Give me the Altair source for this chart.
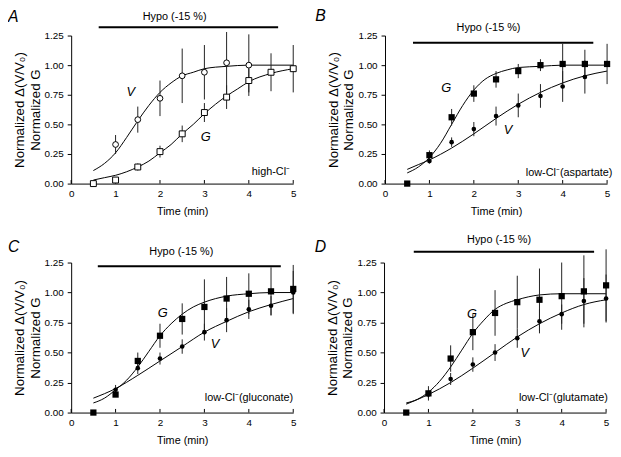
import altair as alt
import pandas as pd

FONT = "Liberation Sans"

X_TICKS = [0, 1, 2, 3, 4, 5]
Y_TICKS = [0.0, 0.25, 0.5, 0.75, 1.0, 1.25]
T_ALL = [0.5, 1.0, 1.5, 2.0, 2.5, 3.0, 3.5, 4.0, 4.5, 5.0]
T_V = [1.0, 1.5, 2.0, 2.5, 3.0, 3.5, 4.0, 4.5, 5.0]

# ---------------- Panel A (high-Cl-) ----------------
A_G = [0.00, 0.03, 0.14, 0.27, 0.42, 0.60, 0.73, 0.87, 0.94, 0.97]
A_G_ERR = [0.0, 0.0, 0.03, 0.05, 0.07, 0.08, 0.10, 0.10, 0.16, 0.20]
A_V_T = [1.0, 1.5, 2.0, 2.5, 3.0, 3.5, 4.0]
A_V = [0.33, 0.54, 0.72, 0.91, 0.94, 1.02, 1.00]
A_V_ERR = [0.08, 0.11, 0.15, 0.23, 0.23, 0.26, 0.26]
A_FITG_T = [0.5, 0.75, 1.0, 1.25, 1.5, 1.75, 2.0, 2.25, 2.5, 2.75, 3.0, 3.25, 3.5, 3.75, 4.0, 4.5, 5.0]
A_FITG = [0.03, 0.05, 0.07, 0.10, 0.14, 0.19, 0.26, 0.33, 0.42, 0.50, 0.59, 0.67, 0.74, 0.80, 0.86, 0.93, 0.97]
A_FITV_T = [0.5, 0.75, 1.0, 1.25, 1.5, 1.75, 2.0, 2.25, 2.5, 2.75, 3.0, 3.5, 4.0, 4.5, 5.0]
A_FITV = [0.11, 0.17, 0.26, 0.39, 0.53, 0.66, 0.77, 0.85, 0.91, 0.94, 0.97, 0.99, 1.00, 1.00, 1.00]

# ---------------- Panel B (aspartate) ----------------
B_G = [0.00, 0.24, 0.56, 0.76, 0.88, 0.95, 1.00, 1.01, 1.01, 1.01]
B_G_ERR = [0.0, 0.04, 0.07, 0.07, 0.07, 0.06, 0.05, 0.17, 0.12, 0.17]
B_V_T = [1.0, 1.5, 2.0, 2.5, 3.0, 3.5, 4.0, 4.5]
B_V = [0.19, 0.35, 0.46, 0.57, 0.66, 0.74, 0.82, 0.90]
B_V_ERR = [0.02, 0.04, 0.06, 0.08, 0.10, 0.10, 0.13, 0.14]
B_FITG_T = [0.5, 0.75, 1.0, 1.25, 1.5, 1.75, 2.0, 2.25, 2.5, 2.75, 3.0, 3.5, 4.0, 5.0]
B_FITG = [0.09, 0.14, 0.22, 0.34, 0.50, 0.66, 0.79, 0.88, 0.93, 0.96, 0.98, 0.99, 1.00, 1.00]
B_FITV_T = [0.5, 0.75, 1.0, 1.5, 2.0, 2.5, 3.0, 3.5, 4.0, 4.5, 5.0]
B_FITV = [0.12, 0.16, 0.20, 0.30, 0.42, 0.55, 0.67, 0.77, 0.85, 0.91, 0.95]

# ---------------- Panel C (gluconate) ----------------
C_G = [0.00, 0.15, 0.43, 0.64, 0.78, 0.88, 0.95, 0.99, 1.01, 1.03]
C_G_ERR = [0.0, 0.02, 0.07, 0.10, 0.13, 0.23, 0.18, 0.17, 0.20, 0.20]
C_V = [0.19, 0.37, 0.45, 0.55, 0.67, 0.77, 0.86, 0.89, 1.00]
C_V_ERR = [0.04, 0.05, 0.05, 0.06, 0.07, 0.10, 0.08, 0.08, 0.18]
C_FITG_T = [0.5, 0.75, 1.0, 1.25, 1.5, 1.75, 2.0, 2.25, 2.5, 2.75, 3.0, 3.5, 4.0, 4.5, 5.0]
C_FITG = [0.08, 0.12, 0.19, 0.27, 0.38, 0.51, 0.64, 0.74, 0.82, 0.88, 0.92, 0.97, 0.99, 1.00, 1.00]
C_FITV_T = [0.5, 1.0, 1.5, 2.0, 2.5, 3.0, 3.5, 4.0, 4.5, 5.0]
C_FITV = [0.12, 0.20, 0.31, 0.43, 0.55, 0.67, 0.76, 0.84, 0.90, 0.95]

# ---------------- Panel D (glutamate) ----------------
D_G = [0.00, 0.16, 0.45, 0.67, 0.83, 0.92, 0.94, 0.97, 1.01, 1.06]
D_G_ERR = [0.0, 0.06, 0.11, 0.15, 0.19, 0.22, 0.26, 0.28, 0.30, 0.30]
D_V = [0.15, 0.28, 0.40, 0.50, 0.62, 0.76, 0.82, 0.93, 0.95]
D_V_ERR = [0.03, 0.05, 0.06, 0.07, 0.08, 0.10, 0.08, 0.19, 0.20]
D_FITG_T = [0.5, 0.75, 1.0, 1.25, 1.5, 1.75, 2.0, 2.25, 2.5, 2.75, 3.0, 3.5, 4.0, 5.0]
D_FITG = [0.08, 0.11, 0.17, 0.26, 0.38, 0.52, 0.66, 0.77, 0.86, 0.91, 0.94, 0.98, 0.99, 0.99]
D_FITV_T = [0.5, 1.0, 1.5, 2.0, 2.5, 3.0, 3.5, 4.0, 4.5, 5.0]
D_FITV = [0.07, 0.15, 0.25, 0.37, 0.50, 0.63, 0.74, 0.83, 0.90, 0.94]

# ---------------- annotations ----------------
LETTERS = ["A", "B", "C", "D"]
LETTER_X = [-1.42, -1.57, -1.42, -1.56]
LETTER_Y = [1.475, 1.48, 1.445, 1.445]
HYPO_TEXT = "Hypo (-15 %)"
HYPO_TEXT_X = [2.33, 2.33, 2.48, 2.59]
HYPO_TEXT_Y = [1.41, 1.31, 1.34, 1.44]
HYPO_BAR_X1 = [0.62, 0.63, 0.60, 0.67]
HYPO_BAR_X2 = [4.66, 4.69, 4.72, 4.73]
HYPO_BAR_Y = [1.32, 1.19, 1.22, 1.34]
LABEL_G_XY = [(3.03, 0.39), (1.38, 0.81), (2.06, 0.83), (1.98, 0.82)]
LABEL_V_XY = [(1.34, 0.77), (2.77, 0.45), (3.24, 0.57), (3.17, 0.50)]
COND_TEXT = ["high-Cl\u207b", "low-Cl\u207b(aspartate)", "low-Cl\u207b(gluconate)", "low-Cl\u207b(glutamate)"]
COND_X = [4.93, 5.12, 5.0, 5.04]
COND_Y = [0.10, 0.09, 0.12, 0.12]
Y_TITLE = ["Normalized \u0394(V/V\u2080)", "Normalized G"]


def panel(i, g_t, g, g_err, v_t, v, v_err, fg_t, fg, fv_t, fv, open_markers, height):
    xs = alt.Scale(domain=[0, 5], nice=False, zero=False)
    ys = alt.Scale(domain=[0, 1.25], nice=False, zero=False)
    xaxis = alt.Axis(values=X_TICKS, format="d", title="Time (min)", ticks=False,
                     labelPadding=5, titlePadding=7, grid=False, labelFlush=False)
    yaxis = alt.Axis(values=Y_TICKS, format=".2f", title=Y_TITLE, tickSize=4,
                     labelPadding=4, titlePadding=2, grid=False, titleLineHeight=16,
                     titleFontSize=13.5, labelFlush=False)

    def X(f):
        return alt.X(f, type="quantitative", scale=xs, axis=xaxis)

    def Y(f):
        return alt.Y(f, type="quantitative", scale=ys, axis=yaxis)

    fitG = pd.DataFrame({"t": fg_t, "y": fg})
    fitV = pd.DataFrame({"t": fv_t, "y": fv})
    gdf = pd.DataFrame({"t": g_t, "y": g, "e": g_err})
    gdf["lo"] = gdf["y"] - gdf["e"]
    gdf["hi"] = gdf["y"] + gdf["e"]
    vdf = pd.DataFrame({"t": v_t, "y": v, "e": v_err})
    vdf["lo"] = vdf["y"] - vdf["e"]
    vdf["hi"] = vdf["y"] + vdf["e"]

    layers = []
    # inward x ticks
    tk = pd.DataFrame({"t": X_TICKS, "y": [0.0] * 6, "y2": [0.03] * 6})
    layers.append(alt.Chart(tk).mark_rule(color="black", strokeWidth=1).encode(
        x=X("t"), y=Y("y"), y2="y2"))
    # fitted curves
    for df in (fitG, fitV):
        layers.append(alt.Chart(df).mark_line(color="black", strokeWidth=1, interpolate="monotone").encode(
            x=X("t"), y=Y("y")))
    # error bars
    for df in (gdf, vdf):
        eb = df[df["e"] > 0]
        layers.append(alt.Chart(eb).mark_rule(color="#222", strokeWidth=1).encode(
            x=X("t"), y=Y("lo"), y2="hi"))
    # markers
    if open_markers:
        layers.append(alt.Chart(vdf).mark_point(shape="circle", size=34, filled=True, fill="white",
                                                stroke="black", strokeWidth=1, opacity=1).encode(
            x=X("t"), y=Y("y")))
        layers.append(alt.Chart(gdf).mark_point(shape="square", size=36, filled=True, fill="white",
                                                stroke="black", strokeWidth=1, opacity=1).encode(
            x=X("t"), y=Y("y")))
    else:
        layers.append(alt.Chart(vdf).mark_point(shape="circle", size=22, filled=True, color="black",
                                                opacity=1).encode(x=X("t"), y=Y("y")))
        layers.append(alt.Chart(gdf).mark_point(shape="square", size=40, filled=True, color="black",
                                                opacity=1).encode(x=X("t"), y=Y("y")))
    # hypo bar + text
    bar = pd.DataFrame({"t": [HYPO_BAR_X1[i]], "t2": [HYPO_BAR_X2[i]], "y": [HYPO_BAR_Y[i]]})
    layers.append(alt.Chart(bar).mark_rule(color="black", strokeWidth=2).encode(
        x=X("t"), x2="t2", y=Y("y")))
    ht = pd.DataFrame({"t": [HYPO_TEXT_X[i]], "y": [HYPO_TEXT_Y[i]], "s": [HYPO_TEXT]})
    layers.append(alt.Chart(ht).mark_text(fontSize=11, align="center", baseline="middle", color="black").encode(
        x=X("t"), y=Y("y"), text="s:N"))
    # G / V labels
    lab = pd.DataFrame({"t": [LABEL_G_XY[i][0], LABEL_V_XY[i][0]],
                        "y": [LABEL_G_XY[i][1], LABEL_V_XY[i][1]], "s": ["G", "V"]})
    layers.append(alt.Chart(lab).mark_text(fontSize=13, fontStyle="italic", align="center",
                                           baseline="middle", color="black").encode(
        x=X("t"), y=Y("y"), text="s:N"))
    # condition text
    ct = pd.DataFrame({"t": [COND_X[i]], "y": [COND_Y[i]], "s": [COND_TEXT[i]]})
    layers.append(alt.Chart(ct).mark_text(fontSize=11, align="right", baseline="middle", color="black").encode(
        x=X("t"), y=Y("y"), text="s:N"))
    # panel letter
    lt = pd.DataFrame({"t": [LETTER_X[i]], "y": [LETTER_Y[i]], "s": [LETTERS[i]]})
    layers.append(alt.Chart(lt).mark_text(fontSize=16, fontStyle="italic", align="left", baseline="top",
                                          color="black").encode(x=X("t"), y=Y("y"), text="s:N"))

    return alt.layer(*layers).properties(width=225, height=height)


pA = panel(0, T_ALL, A_G, A_G_ERR, A_V_T, A_V, A_V_ERR, A_FITG_T, A_FITG, A_FITV_T, A_FITV, True, 150)
pB = panel(1, T_ALL, B_G, B_G_ERR, B_V_T, B_V, B_V_ERR, B_FITG_T, B_FITG, B_FITV_T, B_FITV, False, 150)
pC = panel(2, T_ALL, C_G, C_G_ERR, T_V, C_V, C_V_ERR, C_FITG_T, C_FITG, C_FITV_T, C_FITV, False, 152)
pD = panel(3, T_ALL, D_G, D_G_ERR, T_V, D_V, D_V_ERR, D_FITG_T, D_FITG, D_FITV_T, D_FITV, False, 152)

row1 = alt.hconcat(pA, pB, spacing=17)
row2 = alt.hconcat(pC, pD, spacing=17)
chart = alt.vconcat(row1, row2, spacing=17).properties(
    padding={"left": 0, "top": -3, "right": 0, "bottom": 0}
).configure_view(
    stroke=None
).configure_axis(
    labelFont=FONT, titleFont=FONT, labelFontSize=10, titleFontSize=11,
    titleFontWeight="normal", labelColor="black", titleColor="black",
    domainColor="black", tickColor="black", domainWidth=1, tickWidth=1
).configure_text(font=FONT)

chart.save("out.html", embed_options={"renderer": "svg", "actions": False})
